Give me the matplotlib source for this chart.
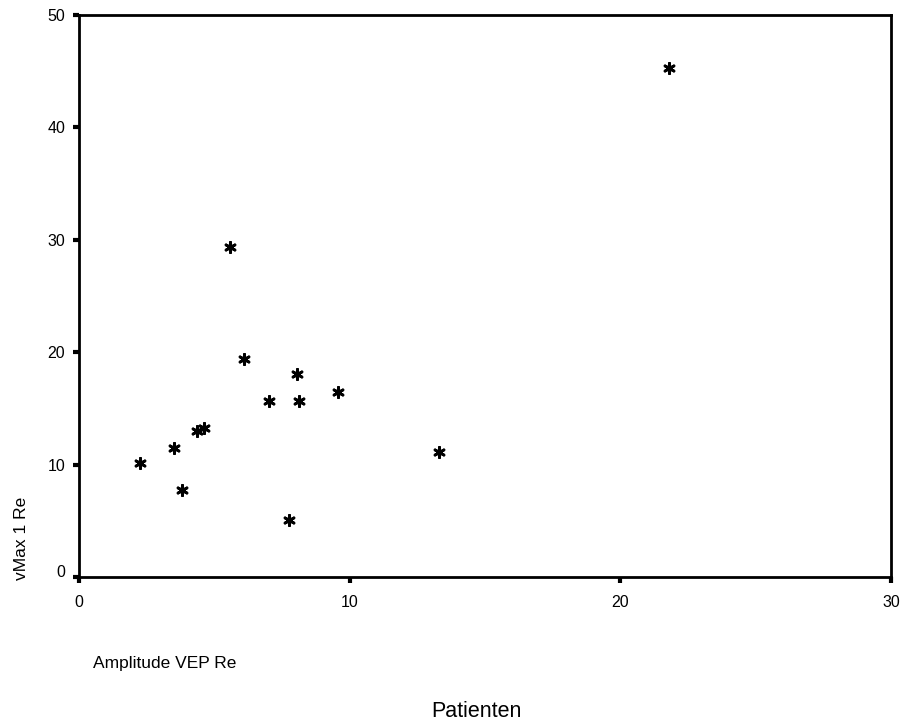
import matplotlib
matplotlib.use("Agg")
import matplotlib.pyplot as plt
from matplotlib.transforms import ScaledTranslation

plt.rcParams["font.family"] = ["Liberation Sans", "DejaVu Sans"]

# Data
amplitude_vep = [21.8, 5.58, 6.1, 8.05, 9.57, 7.02, 8.13, 4.62, 4.36, 3.51, 2.25, 13.3, 3.8, 7.76]
vmax = [45.3, 29.4, 19.4, 18.1, 16.5, 15.7, 15.7, 13.3, 13.0, 11.5, 10.1, 11.1, 7.7, 5.1]
x_ticks = [0, 10, 20, 30]
y_ticks = [0, 10, 20, 30, 40, 50]

fig = plt.figure(figsize=(9.04, 7.25), dpi=100)
ax = fig.add_axes([0.0874, 0.2041, 0.8982, 0.7752])

ax.scatter(amplitude_vep, vmax, marker=(6, 2, 0), s=55, c="black", linewidths=2)

ax.set_xlim(0, 30)
ax.set_ylim(0, 50)
ax.set_xticks(x_ticks)
ax.set_yticks(y_ticks)

for sp in ax.spines.values():
    sp.set_linewidth(2)
ax.tick_params(direction="out", length=4, width=3, labelsize=11.5)
ax.tick_params(axis="y", pad=6)
ax.tick_params(axis="x", pad=9)

# the 0 on the y axis sits a bit above the axis line
lab0 = ax.get_yticklabels()[0]
lab0.set_transform(lab0.get_transform() + ScaledTranslation(0, 0.06, fig.dpi_scale_trans))

fig.text(0.016, 0.200, "vMax 1 Re", rotation=90, fontsize=12.5, ha="left", va="bottom")
fig.text(0.103, 0.085, "Amplitude VEP Re", fontsize=12.5, ha="left", va="center")
fig.text(0.527, 0.019, "Patienten", fontsize=15.5, ha="center", va="center")

plt.savefig("out.png", dpi=100)
